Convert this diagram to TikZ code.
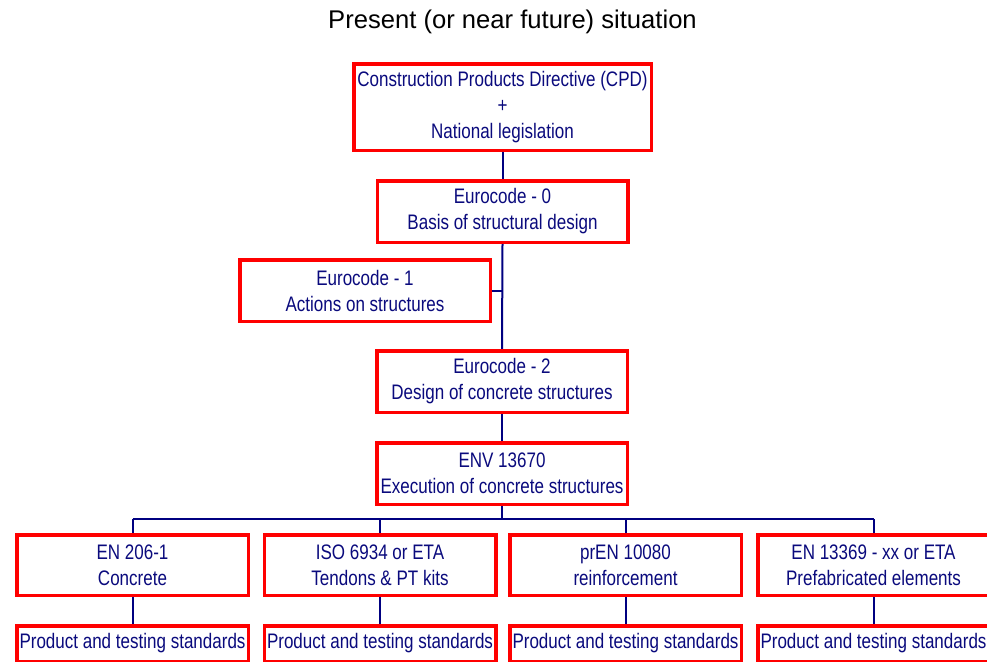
\documentclass[tikz,border=0pt]{standalone}
\usepackage{fontspec}
\setmainfont{Liberation Sans}
\newfontfamily\boxfont[FakeStretch=0.81]{Liberation Sans}
\usetikzlibrary{backgrounds}
\definecolor{navytxt}{RGB}{10,10,125}
\definecolor{navyline}{RGB}{0,0,128}
\definecolor{boxred}{RGB}{255,0,0}
\tikzset{
  cbox/.style={draw=boxred, line width=3.5pt, rectangle, fill=white, inner sep=0pt,
    align=center, text=navytxt, font=\boxfont\fontsize{21}{26}\selectfont},
  midbox/.style={cbox, minimum width=250.5pt, minimum height=61.5pt},
  lowbox/.style={cbox, minimum width=231.5pt, minimum height=60.5pt},
  prodbox/.style={cbox, minimum width=231.5pt, minimum height=35.5pt},
  conn/.style={draw=navyline, line width=2pt}
}
\begin{document}
\begin{tikzpicture}[x=1pt,y=-1pt]
\clip (0,0) rectangle (987,661);
\node[font=\fontsize{25.6}{30}\selectfont, text=black, anchor=base] (title) at (512.5,28.5) {Present (or near future) situation};
\node[cbox, minimum width=297.5pt, minimum height=86.5pt] (cpd) at (502.5,107) {Construction Products Directive (CPD)\\+\\National legislation};
\node[midbox] (ec0) at (502.5,211.5) {Eurocode - 0\\Basis of structural design};
\node[midbox] (ec1) at (365,290.5) {Eurocode - 1\\Actions on structures};
\node[midbox] (ec2) at (502,381.5) {Eurocode - 2\\Design of concrete structures};
\node[midbox] (env) at (502,473.5) {ENV 13670\\Execution of concrete structures};
\node[lowbox] (b1) at (132.5,565) {EN 206-1\\Concrete};
\node[lowbox] (b2) at (380,565) {ISO 6934 or ETA\\Tendons \& PT kits};
\node[lowbox] (b3) at (625.5,565) {prEN 10080\\reinforcement};
\node[lowbox] (b4) at (873.5,565) {EN 13369 - xx or ETA\\Prefabricated elements};
\node[prodbox] (p1) at (132.5,643.5) {Product and testing standards};
\node[prodbox] (p2) at (380,643.5) {Product and testing standards};
\node[prodbox] (p3) at (625.5,643.5) {Product and testing standards};
\node[prodbox] (p4) at (873.5,643.5) {Product and testing standards};
\coordinate (bus) at (502,519);
\begin{scope}[on background layer]
\fill[white] (0,0) rectangle (987,661);
\draw[conn] (cpd.south) -- (ec0.north);
\draw[conn] (ec0.south) -- (ec2.north);
\draw[conn] (ec1.east) -- (ec1.east -| ec2.north);
\draw[conn] (ec2.south) -- (env.north);
\draw[conn] (env.south) -- (bus);
\draw[conn] (b1.north |- bus) -- (b4.north |- bus);
\draw[conn] (b1.north |- bus) -- (b1.north);
\draw[conn] (b2.north |- bus) -- (b2.north);
\draw[conn] (b3.north |- bus) -- (b3.north);
\draw[conn] (b4.north |- bus) -- (b4.north);
\draw[conn] (b1.south) -- (p1.north);
\draw[conn] (b2.south) -- (p2.north);
\draw[conn] (b3.south) -- (p3.north);
\draw[conn] (b4.south) -- (p4.north);
\end{scope}
\end{tikzpicture}
\end{document}
